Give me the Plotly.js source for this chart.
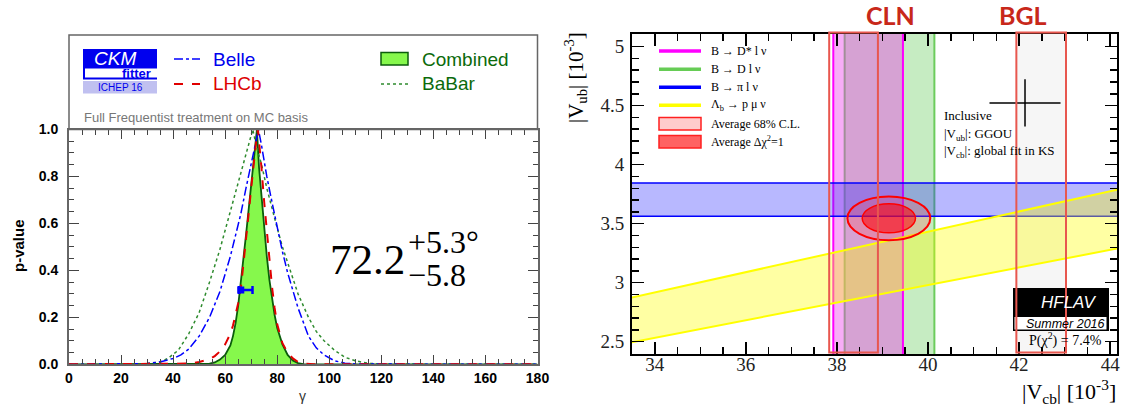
<!DOCTYPE html>
<html><head><meta charset="utf-8">
<script src="https://cdn.plot.ly/plotly-3.0.1.min.js"></script>
<style>html,body{margin:0;padding:0;background:#fff}#chart{width:1121px;height:410px}</style>
</head><body><div id="chart"></div>
<script>
// ---------------- LEFT PANEL DATA (gamma p-value scans) -------------
const combGamma = [0, 40, 50, 54, 56, 58, 60, 62, 63, 64, 65, 66, 67, 68, 69, 70, 71, 72.2, 73, 74, 75, 76, 77, 78, 79, 80, 82, 84, 86, 88, 90, 95, 180];
const combP     = [0, 0, 0.0005, 0.003, 0.008, 0.02, 0.04, 0.08, 0.12, 0.175, 0.25, 0.34, 0.45, 0.55, 0.66, 0.77, 0.88, 1.0, 0.84, 0.71, 0.58, 0.46, 0.36, 0.28, 0.21, 0.155, 0.085, 0.04, 0.016, 0.005, 0.001, 0, 0];
const lhcbGamma = [0, 42, 46, 50, 54, 56, 58, 60, 62, 63, 64, 65, 66, 67, 68, 69, 70, 71, 72, 72.6, 73, 74, 75, 76, 77, 78, 79, 80, 82, 84, 86, 88, 90, 94, 180];
const lhcbP     = [0, 0, 0.003, 0.01, 0.022, 0.035, 0.055, 0.085, 0.13, 0.165, 0.21, 0.26, 0.32, 0.42, 0.53, 0.64, 0.75, 0.86, 0.96, 1.0, 0.94, 0.83, 0.69, 0.56, 0.44, 0.33, 0.24, 0.17, 0.09, 0.05, 0.025, 0.01, 0.003, 0, 0];
const belleGamma = [0, 25, 30, 35, 40, 43, 46, 50, 54, 58, 62, 64, 66, 68, 70, 72, 72.8, 74, 76, 78, 80, 82, 84, 86, 88, 90, 92, 95, 98, 102, 106, 110, 180];
const belleP     = [0, 0, 0.003, 0.01, 0.025, 0.04, 0.065, 0.12, 0.2, 0.31, 0.46, 0.55, 0.64, 0.75, 0.86, 0.97, 1.0, 0.93, 0.8, 0.69, 0.58, 0.48, 0.39, 0.31, 0.24, 0.18, 0.12, 0.07, 0.04, 0.015, 0.005, 0.001, 0];
const babarGamma = [0, 25, 30, 35, 38, 42, 46, 50, 54, 58, 62, 66, 68, 70, 70.6, 72, 74, 76, 78, 80, 82, 84, 86, 88, 90, 92, 95, 98, 102, 106, 110, 115, 120, 180];
const babarP     = [0, 0, 0.003, 0.01, 0.025, 0.06, 0.13, 0.22, 0.35, 0.49, 0.65, 0.81, 0.89, 0.97, 1.0, 0.93, 0.85, 0.75, 0.66, 0.58, 0.5, 0.43, 0.36, 0.3, 0.25, 0.2, 0.14, 0.1, 0.06, 0.03, 0.015, 0.004, 0.001, 0];
const pointGamma = [66];
const pointP = [0.316];
const pointErrPlus = [4.5];
const pointErrMinus = [0.7];
const leftLegendLabels = ["Belle", "LHCb", "Combined", "BaBar"];
const gammaResult = {central: "72.2", plus: "+5.3°", minus: "−5.8"};

// ---------------- RIGHT PANEL DATA (|Vub| vs |Vcb|, units 1e-3) ------------------------
const vcbRange = [33.5, 44.15];
const vubRange = [2.393, 5.107];
const dstarBand = [37.92, 39.45];   // B -> D* l nu  (|Vcb|)
const dBand     = [38.17, 40.14];   // B -> D l nu   (|Vcb|)
const piBand    = [3.562, 3.845];   // B -> pi l nu  (|Vub|)
const lambdaRatio = [0.0745, 0.0858]; // Lambda_b -> p mu nu  (|Vub/Vcb|)
const fitCentre = [39.14, 3.545];
const fitDchi2Half = [0.585, 0.123];
const fit68Half = [0.91, 0.185];
const inclusiveVcb = [42.13], inclusiveVcbErr = [0.78];
const inclusiveVub = [4.523], inclusiveVubErr = [0.2];
const clnBox = [37.83, 38.90];
const bglBox = [41.94, 43.03];
const rightLegendLabels = ["B → D* l ν", "B → D l ν", "B → π l ν", "Λ<sub>b</sub> → p μ ν", "Average 68% C.L.", "Average Δχ<sup>2</sup>=1"];
const inclusiveLabels = ["Inclusive", "|V<sub>ub</sub>|: GGOU", "|V<sub>cb</sub>|: global fit in KS"];

// ---------------- helpers (pixel -> paper) ---------------------------------------------
const W = 1121, H = 410;
const PX = x => x / W;
const PY = y => 1 - y / H;
const SANS = 'Liberation Sans, Arial, sans-serif';
const SERIF = 'Liberation Serif, Times New Roman, serif';

function ann(text, x, y, o) {
  o = o || {};
  return Object.assign({
    text: text, xref: 'paper', yref: 'paper', x: PX(x), y: PY(y),
    xanchor: o.xa || 'left', yanchor: o.ya || 'middle', showarrow: false,
    textangle: o.angle || 0,
    font: Object.assign({family: SANS, size: 13, color: '#000'}, o.font || {})
  }, o.extra || {});
}
function rectP(x0, y0, x1, y1, fill, line, lw, layer) {
  return {type: 'rect', xref: 'paper', yref: 'paper', x0: PX(x0), x1: PX(x1), y0: PY(y0), y1: PY(y1),
    fillcolor: fill || 'rgba(0,0,0,0)', line: {color: line || 'rgba(0,0,0,0)', width: lw || 0}, layer: layer || 'above'};
}
function lineP(x0, y0, x1, y1, color, w, dash) {
  return {type: 'line', xref: 'paper', yref: 'paper', x0: PX(x0), x1: PX(x1), y0: PY(y0), y1: PY(y1),
    line: {color: color, width: w, dash: dash || 'solid'}, layer: 'above'};
}

// ---------------- traces ---------------------------------------------------------------
const traces = [];
traces.push({x: combGamma, y: combP, type: 'scatter', mode: 'lines', fill: 'tozeroy',
  fillcolor: '#86f84c', line: {color: '#0b5d0b', width: 1.8}, xaxis: 'x', yaxis: 'y', hoverinfo: 'skip'});
traces.push({x: babarGamma, y: babarP, type: 'scatter', mode: 'lines',
  line: {color: '#2e8b2e', width: 1.5, dash: 'dot'}, xaxis: 'x', yaxis: 'y', hoverinfo: 'skip'});
traces.push({x: belleGamma, y: belleP, type: 'scatter', mode: 'lines',
  line: {color: '#0000ff', width: 1.5, dash: 'dashdot'}, xaxis: 'x', yaxis: 'y', hoverinfo: 'skip'});
traces.push({x: lhcbGamma, y: lhcbP, type: 'scatter', mode: 'lines',
  line: {color: '#e00000', width: 2, dash: 'dash'}, xaxis: 'x', yaxis: 'y', hoverinfo: 'skip'});
traces.push({x: pointGamma, y: pointP, type: 'scatter', mode: 'markers',
  marker: {symbol: 'square', size: 7, color: '#0000ff'},
  error_x: {type: 'data', symmetric: false, array: pointErrPlus, arrayminus: pointErrMinus, color: '#0000ff', thickness: 2.5, width: 4},
  xaxis: 'x', yaxis: 'y', hoverinfo: 'skip'});

// right panel bands
const yLo = vubRange[0] - 1, yHi = vubRange[1] + 1;
const xLo = vcbRange[0] - 1, xHi = vcbRange[1] + 1;
traces.push({x: [dBand[0], dBand[1], dBand[1], dBand[0], dBand[0]], y: [yLo, yLo, yHi, yHi, yLo],
  type: 'scatter', mode: 'lines', fill: 'toself', fillcolor: 'rgba(120,210,110,0.42)',
  line: {color: '#6ccc5c', width: 2}, xaxis: 'x2', yaxis: 'y2', hoverinfo: 'skip'});
traces.push({x: [dstarBand[0], dstarBand[1], dstarBand[1], dstarBand[0], dstarBand[0]], y: [yLo, yLo, yHi, yHi, yLo],
  type: 'scatter', mode: 'lines', fill: 'toself', fillcolor: 'rgba(235,60,235,0.42)',
  line: {color: '#ff00ff', width: 2}, xaxis: 'x2', yaxis: 'y2', hoverinfo: 'skip'});
traces.push({x: [xLo, xHi, xHi, xLo, xLo], y: [piBand[0], piBand[0], piBand[1], piBand[1], piBand[0]],
  type: 'scatter', mode: 'lines', fill: 'toself', fillcolor: 'rgba(40,40,255,0.33)',
  line: {color: '#0000ff', width: 1.5}, xaxis: 'x2', yaxis: 'y2', hoverinfo: 'skip'});
const yx = [xLo, xHi];
traces.push({x: [yx[0], yx[1], yx[1], yx[0], yx[0]],
  y: [lambdaRatio[0] * yx[0], lambdaRatio[0] * yx[1], lambdaRatio[1] * yx[1], lambdaRatio[1] * yx[0], lambdaRatio[0] * yx[0]],
  type: 'scatter', mode: 'lines', fill: 'toself', fillcolor: 'rgba(255,255,0,0.36)',
  line: {color: '#ffff00', width: 2}, xaxis: 'x2', yaxis: 'y2', hoverinfo: 'skip'});
traces.push({x: inclusiveVcb, y: inclusiveVub, type: 'scatter', mode: 'markers',
  marker: {size: 1, color: '#000'},
  error_x: {type: 'data', array: inclusiveVcbErr, color: '#000', thickness: 1.5, width: 0},
  error_y: {type: 'data', array: inclusiveVubErr, color: '#000', thickness: 1.5, width: 0},
  xaxis: 'x2', yaxis: 'y2', hoverinfo: 'skip'});

// ---------------- shapes ---------------------------------------------------------------
const shapes = [];
// left panel legend frame
shapes.push(rectP(69, 35, 537.5, 129.5, null, '#666', 1.5));
// CKMfitter logo
shapes.push(rectP(83, 49, 157, 79.5, '#0000ee', null, 0));
shapes.push(rectP(85, 68.5, 157, 77.5, '#ffffff', null, 0));
shapes.push(rectP(83, 81, 157, 93.5, '#c0c0f0', null, 0));
// left legend samples
shapes.push(lineP(174, 59, 200, 59, '#0000ff', 1.5, 'dashdot'));
shapes.push(lineP(174, 84, 200, 84, '#e00000', 2, 'dash'));
shapes.push(rectP(381, 52.5, 408, 65, '#86f84c', '#0b5d0b', 1.5));
shapes.push(lineP(381, 84, 408, 84, '#2e8b2e', 1.5, 'dot'));

// right panel: BGL background
shapes.push({type: 'rect', xref: 'x2', yref: 'y2', x0: bglBox[0], x1: bglBox[1], y0: vubRange[0], y1: vubRange[1],
  fillcolor: '#f6f6f6', line: {width: 0}, layer: 'below'});
// fit ellipses
shapes.push({type: 'circle', xref: 'x2', yref: 'y2',
  x0: fitCentre[0] - fit68Half[0], x1: fitCentre[0] + fit68Half[0], y0: fitCentre[1] - fit68Half[1], y1: fitCentre[1] + fit68Half[1],
  fillcolor: 'rgba(255,70,70,0.25)', line: {color: '#ff0000', width: 2}, layer: 'above'});
shapes.push({type: 'circle', xref: 'x2', yref: 'y2',
  x0: fitCentre[0] - fitDchi2Half[0], x1: fitCentre[0] + fitDchi2Half[0], y0: fitCentre[1] - fitDchi2Half[1], y1: fitCentre[1] + fitDchi2Half[1],
  fillcolor: 'rgba(255,0,0,0.55)', line: {color: '#ff0000', width: 1.5}, layer: 'above'});
// HFLAV logo
shapes.push(rectP(1013, 288, 1109, 331, '#000000', null, 0));
shapes.push(rectP(1014.5, 317, 1106.5, 329.5, '#ffffff', null, 0));
// CLN / BGL boxes
shapes.push({type: 'rect', xref: 'x2', yref: 'paper', x0: clnBox[0], x1: clnBox[1], y0: PY(352.5), y1: PY(32.5),
  fillcolor: 'rgba(0,0,0,0)', line: {color: '#e8574f', width: 2}, layer: 'above'});
shapes.push({type: 'rect', xref: 'x2', yref: 'paper', x0: bglBox[0], x1: bglBox[1], y0: PY(352.5), y1: PY(32.5),
  fillcolor: 'rgba(0,0,0,0)', line: {color: '#e8574f', width: 2}, layer: 'above'});
// right legend samples
const rlColors = ['#ff00ff', '#66cc55', '#0000ff', '#ffff00'];
const rlY = [51, 69.3, 87.3, 105.3, 123.7, 141.7];
for (let i = 0; i < 4; i++) shapes.push(lineP(659, rlY[i], 701, rlY[i], rlColors[i], 3.5));
shapes.push(rectP(659, 117.5, 701, 130, '#ffcccc', '#ff2020', 1.5));
shapes.push(rectP(659, 135.5, 701, 148, '#ff6262', '#ff2020', 1.5));

// ---------------- annotations ----------------------------------------------------------
const anns = [];
// left legend
anns.push(ann('CKM', 115, 58, {xa: 'center', font: {size: 19, color: '#fff', style: 'italic'}}));
anns.push(ann('fitter', 153, 73.5, {xa: 'right', font: {size: 13, color: '#0000ee', weight: 'bold'}}));
anns.push(ann('ICHEP 16', 120, 87.5, {xa: 'center', font: {size: 10, color: '#0000ee'}}));
anns.push(ann(leftLegendLabels[0], 211, 59.5, {font: {size: 19, color: '#0000ee'}}));
anns.push(ann(leftLegendLabels[1], 211, 84, {font: {size: 19, color: '#dd0000'}}));
anns.push(ann(leftLegendLabels[2], 420, 59.5, {font: {size: 19, color: '#0b6a0b'}}));
anns.push(ann(leftLegendLabels[3], 420, 84, {font: {size: 19, color: '#0b6a0b'}}));
anns.push(ann('Full Frequentist treatment on MC basis', 82, 117.5, {font: {size: 13, color: '#777'}}));
// result
anns.push(ann(gammaResult.central, 328, 259, {font: {family: SERIF, size: 43}}));
anns.push(ann(gammaResult.plus, 406, 242, {font: {family: SERIF, size: 32}}));
anns.push(ann(gammaResult.minus, 406, 275, {font: {family: SERIF, size: 32}}));
// left axis titles
anns.push(ann('p-value', 18, 246, {xa: 'center', angle: -90, font: {size: 15, weight: 'bold'}}));
anns.push(ann('γ', 302, 396, {xa: 'center', font: {size: 14, color: '#333'}}));

// right panel
anns.push(ann('CLN', 890, 15, {xa: 'center', font: {family: 'Lato, Open Sans, sans-serif', size: 25, color: '#c8281a', weight: 'bold'}}));
anns.push(ann('BGL', 1023, 15, {xa: 'center', font: {family: 'Lato, Open Sans, sans-serif', size: 25, color: '#c8281a', weight: 'bold'}}));
for (let i = 0; i < rightLegendLabels.length; i++)
  anns.push(ann(rightLegendLabels[i], 709, rlY[i], {font: {family: SERIF, size: 12}}));
anns.push(ann(inclusiveLabels[0], 942, 115, {font: {family: SERIF, size: 13}}));
anns.push(ann(inclusiveLabels[1], 942, 134, {font: {family: SERIF, size: 13}}));
anns.push(ann(inclusiveLabels[2], 942, 151, {font: {family: SERIF, size: 13}}));
anns.push(ann('HFLAV', 1069, 302, {xa: 'center', font: {size: 17, color: '#fff', style: 'italic'}}));
anns.push(ann('Summer 2016', 1065, 323.5, {xa: 'center', font: {size: 12.5, color: '#000', style: 'italic'}}));
anns.push(ann('P(χ<sup>2</sup>) = 7.4%', 1065, 339, {xa: 'center', font: {family: SERIF, size: 14}}));
anns.push(ann('|V<sub>cb</sub>| [10<sup>-3</sup>]', 1118, 391, {xa: 'right', font: {family: SERIF, size: 22}}));
anns.push(ann('|V<sub>ub</sub>| [10<sup>-3</sup>]', 576, 78, {xa: 'center', angle: -90, font: {family: SERIF, size: 21}}));

// ---------------- layout ---------------------------------------------------------------
const layout = {
  width: W, height: H, margin: {l: 0, r: 0, t: 0, b: 0},
  paper_bgcolor: '#fff', plot_bgcolor: '#fff', showlegend: false,
  xaxis: {domain: [PX(69), PX(537.5)], range: [0, 180], anchor: 'y',
    tickmode: 'linear', tick0: 0, dtick: 20, ticks: 'inside', ticklen: 9, tickcolor: '#444', tickwidth: 1,
    minor: {dtick: 5, ticks: 'inside', ticklen: 5, tickcolor: '#444', tickwidth: 1},
    showline: true, linecolor: '#666', linewidth: 2, mirror: 'allticks', showgrid: false, zeroline: false,
    tickfont: {family: SANS, size: 14, color: '#000', weight: 'bold'}, ticklabelstandoff: 0},
  yaxis: {domain: [PY(364.3), PY(129.5)], range: [0, 1], anchor: 'x',
    tickmode: 'linear', tick0: 0, dtick: 0.2, tickformat: '.1f', ticks: 'inside', ticklen: 10, tickcolor: '#444', tickwidth: 1,
    minor: {dtick: 0.05, ticks: 'inside', ticklen: 5, tickcolor: '#444', tickwidth: 1},
    showline: true, linecolor: '#666', linewidth: 2, mirror: 'allticks', showgrid: false, zeroline: false,
    tickfont: {family: SANS, size: 14, color: '#000', weight: 'bold'}, ticklabelstandoff: 6},
  xaxis2: {domain: [PX(632), PX(1117)], range: vcbRange, anchor: 'y2',
    tickmode: 'linear', tick0: 34, dtick: 2, ticks: 'inside', ticklen: 12, tickcolor: '#000', tickwidth: 1.5,
    minor: {dtick: 0.5, ticks: 'inside', ticklen: 7, tickcolor: '#000', tickwidth: 1.5},
    showline: true, linecolor: '#000', linewidth: 2, mirror: 'allticks', showgrid: false, zeroline: false,
    tickfont: {family: SERIF, size: 19, color: '#222'}, ticklabelstandoff: -8},
  yaxis2: {domain: [PY(354.3), PY(34)], range: vubRange, anchor: 'x2',
    tickmode: 'linear', tick0: 2.5, dtick: 0.5, ticks: 'inside', ticklen: 12, tickcolor: '#000', tickwidth: 1.5,
    minor: {dtick: 0.1, ticks: 'inside', ticklen: 7, tickcolor: '#000', tickwidth: 1.5},
    showline: true, linecolor: '#000', linewidth: 2, mirror: 'allticks', showgrid: false, zeroline: false,
    tickfont: {family: SERIF, size: 19, color: '#222'}, ticklabelstandoff: 2},
  shapes: shapes, annotations: anns
};
Plotly.newPlot('chart', traces, layout, {staticPlot: true, displayModeBar: false});
</script>
</body></html>
